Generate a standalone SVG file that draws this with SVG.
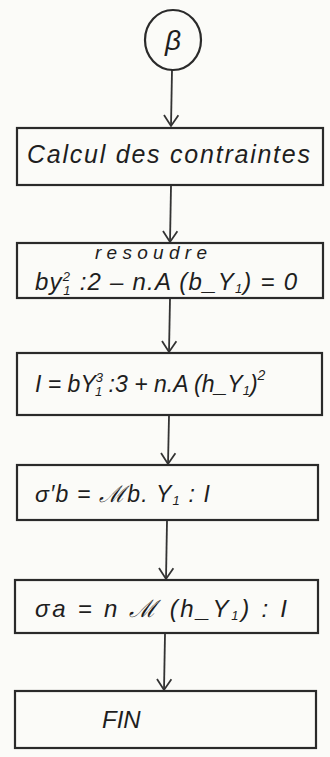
<svg xmlns="http://www.w3.org/2000/svg" width="330" height="757" viewBox="0 0 330 757">
<style>
.bg{fill:#fbfbf8}
.box{fill:none;stroke:#2a2a2a;stroke-width:2.2}
.conn{fill:none;stroke:#333;stroke-width:1.8}
.t{font-family:"Liberation Sans",Arial,sans-serif;font-style:italic;fill:#1e1e1e}
</style>
<defs>
<marker id="ah" viewBox="0 0 20 20" refX="18" refY="10" markerWidth="18" markerHeight="18" markerUnits="userSpaceOnUse" orient="auto">
<path d="M6,2 L18,10 L6,18" fill="none" stroke="#333" stroke-width="2"/>
</marker>
</defs>
<rect class="bg" x="0" y="0" width="330" height="757"/>
<g id="connectors">
<line class="conn" x1="172" y1="70" x2="171" y2="126" marker-end="url(#ah)"/>
<line class="conn" x1="171" y1="186" x2="170" y2="242" marker-end="url(#ah)"/>
<line class="conn" x1="170" y1="299" x2="169" y2="352" marker-end="url(#ah)"/>
<line class="conn" x1="169" y1="416" x2="168" y2="464" marker-end="url(#ah)"/>
<line class="conn" x1="167" y1="521" x2="166" y2="579" marker-end="url(#ah)"/>
<line class="conn" x1="165" y1="634" x2="164" y2="690" marker-end="url(#ah)"/>
</g>
<g id="start">
<ellipse class="box" cx="173" cy="40" rx="28" ry="30"/>
<text class="t" x="173" y="50" font-size="28" text-anchor="middle">β</text>
</g>
<g id="n1">
<rect class="box" x="17" y="128" width="306" height="57"/>
<text class="t" x="27" y="163" font-size="25" textLength="283" lengthAdjust="spacing">Calcul des contraintes</text>
</g>
<g id="n2">
<rect class="box" x="17" y="243" width="306" height="55"/>
<text class="t" x="95" y="259" font-size="19" textLength="112" lengthAdjust="spacing">resoudre</text>
<text class="t" x="35" y="290" font-size="24" textLength="262" lengthAdjust="spacing">by<tspan font-size="13" dy="-9">2</tspan><tspan font-size="13" dx="-8" dy="14">1</tspan><tspan dy="-5"> :2 – n.A (b_Y</tspan><tspan font-size="13" dy="3">1</tspan><tspan dy="-3">) = 0</tspan></text>
</g>
<g id="n3">
<rect class="box" x="17" y="353" width="305" height="62"/>
<text class="t" x="35" y="392" font-size="23">I = bY<tspan font-size="13" dy="-10">3</tspan><tspan font-size="13" dx="-8" dy="14">1</tspan><tspan dy="-4"> :3 + n.A (h_Y</tspan><tspan font-size="13" dy="3">1</tspan><tspan dy="-3">)</tspan><tspan font-size="14" dy="-12">2</tspan></text>
</g>
<g id="n4">
<rect class="box" x="17" y="465" width="301" height="55"/>
<text class="t" x="35" y="502" font-size="23" textLength="175" lengthAdjust="spacing">σ′b = ℳb. Y<tspan font-size="13" dy="3">1</tspan><tspan dy="-3"> : I</tspan></text>
</g>
<g id="n5">
<rect class="box" x="15" y="580" width="303" height="53"/>
<text class="t" x="35" y="617" font-size="24" textLength="252" lengthAdjust="spacing">σa = n ℳ (h_Y<tspan font-size="13" dy="3">1</tspan><tspan dy="-3">) : I</tspan></text>
</g>
<g id="n6">
<rect class="box" x="15" y="691" width="301" height="57"/>
<text class="t" x="102" y="728" font-size="24">FIN</text>
</g>
</svg>
